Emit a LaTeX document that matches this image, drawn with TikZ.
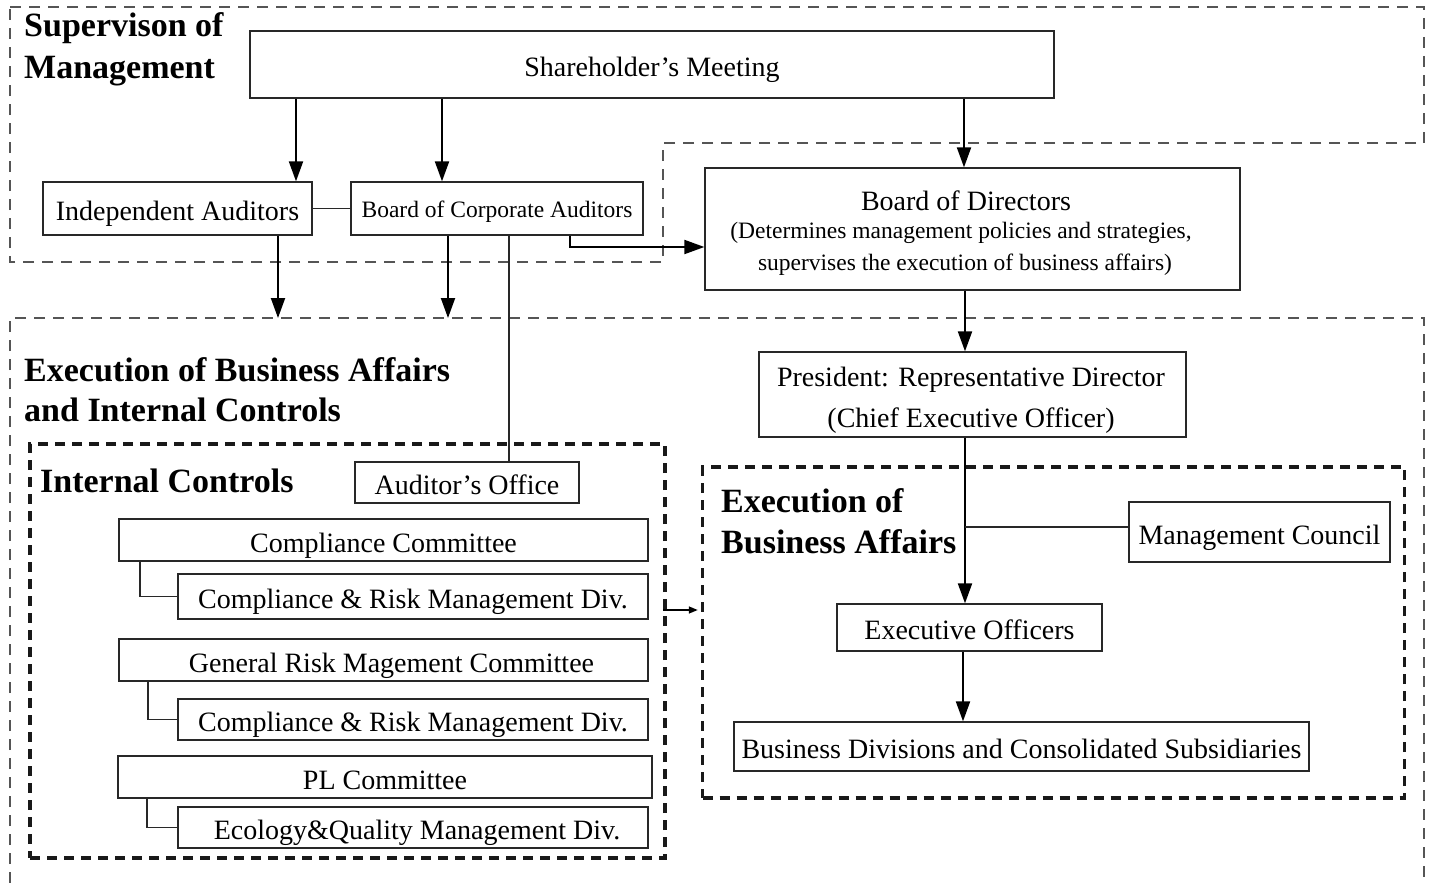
\documentclass[tikz,border=0pt]{standalone}
\usepackage{fontspec}
\setmainfont{Liberation Serif}
\usetikzlibrary{arrows.meta,calc}
\definecolor{lnc}{RGB}{40,40,40}
\definecolor{dsc}{RGB}{85,85,85}
\newcommand{\mainsz}{\fontsize{28}{32}\selectfont}
\newcommand{\smallsz}{\fontsize{23.5}{28}\selectfont}
\newcommand{\titlesz}{\fontsize{34}{41}\selectfont\bfseries}
\tikzset{
  box/.style={draw=lnc, line width=1.3pt, inner sep=0pt, font=\mainsz, text=black, text height=24.5pt, text depth=0pt},
  sbox/.style={box, font=\smallsz, text height=17pt},
  txt/.style={inner sep=0pt, anchor=base, text=black},
  ttl/.style={inner sep=0pt, anchor=base west, font=\titlesz, text=black},
  arr/.style={draw=black, line width=2pt, -{Triangle[length=20pt,width=14pt]}},
  sarr/.style={draw=black, line width=1.5pt, -{Triangle[length=9pt,width=7pt]}},
  thin/.style={draw=lnc, line width=1.2pt},
  lightdash/.style={draw=dsc, line width=1.2pt, dash pattern=on 11pt off 8pt},
  heavydash/.style={draw=black!90, line width=3.5pt, dash pattern=on 10pt off 7pt},
}
\begin{document}
\begin{tikzpicture}[x=1pt,y=-1pt]
\useasboundingbox (0,0) rectangle (1432,883);
% outer regions
\draw[lightdash] (10,7) -- (1424,7) -- (1424,143) -- (663,143) -- (663,262) -- (10,262) -- cycle;
\draw[lightdash] (10,883) -- (10,318) -- (1424,318) -- (1424,883);
% thick dashed groups
\node[heavydash, minimum width=635pt, minimum height=414pt, inner sep=0pt] (ic) at (347.5,651) {};
\node[heavydash, minimum width=702pt, minimum height=331pt, inner sep=0pt] (eba) at (1053.5,632.5) {};
% titles
\node[ttl] (t1a) at (24,37) {Supervison of};
\node[ttl] (t1b) at (24,78) {Management};
\node[ttl] (t2a) at (24,381) {Execution of Business Affairs};
\node[ttl] (t2b) at (24,421) {and Internal Controls};
\node[ttl] (t3) at (40,492) {Internal Controls};
\node[ttl] (t4a) at (721,512) {Execution of};
\node[ttl] (t4b) at (721,553) {Business Affairs};
% boxes
\node[box, minimum width=804pt, minimum height=67pt] (sm) at (652,64.5) {Shareholder’s Meeting};
\node[box, minimum width=269pt, minimum height=53pt] (ia) at (177.5,208.5) {Independent Auditors};
\node[sbox, minimum width=292pt, minimum height=53pt] (bca) at (497,208.5) {Board of Corporate Auditors};
\node[box, minimum width=535pt, minimum height=122pt] (bod) at (972.5,229) {};
\node[txt, font=\mainsz] (bodA) at (966,210) {Board of Directors};
\node[txt, font=\smallsz] (bodB) at (961,238) {(Determines management policies and strategies,};
\node[txt, font=\smallsz] (bodC) at (965,270) {supervises the execution of business affairs)};
\node[box, minimum width=427pt, minimum height=85pt] (pres) at (972.5,394.5) {};
\node[txt, font=\mainsz] (presA) at (971,386) {President: Representative Director};
\node[txt, font=\mainsz] (presB) at (971,427) {(Chief Executive Officer)};
\node[box, minimum width=261pt, minimum height=60pt] (mc) at (1259.5,532) {Management Council};
\node[box, minimum width=265pt, minimum height=47pt] (eo) at (969.5,627.5) {Executive Officers};
\node[box, minimum width=575pt, minimum height=49pt] (bd) at (1021.5,746.5) {Business Divisions and Consolidated Subsidiaries};
\node[box, minimum width=224pt, minimum height=41pt] (ao) at (467,482.5) {Auditor’s Office};
\node[box, minimum width=529pt, minimum height=42pt] (cc) at (383.5,540) {Compliance Committee};
\node[box, minimum width=470pt, minimum height=45pt] (crm1) at (413,596.5) {Compliance \& Risk Management Div.};
\node[box, minimum width=529pt, minimum height=42pt] (grmc) at (383.5,660) {\hspace*{16pt}General Risk Magement Committee};
\node[box, minimum width=470pt, minimum height=41pt] (crm2) at (413,719.5) {Compliance \& Risk Management Div.};
\node[box, minimum width=534pt, minimum height=42pt] (pl) at (385,777) {PL Committee};
\node[box, minimum width=470pt, minimum height=41pt] (eq) at (413,827.5) {\hspace*{8pt}Ecology\&Quality Management Div.};
% helper coordinates
\coordinate (a1) at (296,0);
\coordinate (a2) at (442,0);
\coordinate (a3) at (964,0);
\coordinate (a4) at (278,0);
\coordinate (a5) at (448,0);
\coordinate (a6) at (509,0);
\coordinate (a7) at (570,0);
\coordinate (a8) at (965,0);
\coordinate (a9) at (963,0);
\coordinate (r2) at (0,318);
\coordinate (y247) at (0,247);
\coordinate (br) at (965,527);
\coordinate (y610) at (0,610);
\coordinate (s1) at (140,0);
\coordinate (s2) at (148,0);
\coordinate (s3) at (147,0);
% connectors
\draw[arr] (sm.south -| a1) -- (ia.north -| a1);
\draw[arr] (sm.south -| a2) -- (bca.north -| a2);
\draw[arr] (sm.south -| a3) -- (bod.north -| a3);
\draw[thin] (ia.east) -- (bca.west);
\draw[arr] (ia.south -| a4) -- (a4 |- r2);
\draw[arr] (bca.south -| a5) -- (a5 |- r2);
\draw[thin] (bca.south -| a6) -- (ao.north -| a6);
\draw[arr] (bca.south -| a7) -- (a7 |- y247) -- (bod.west |- y247);
\draw[arr] (bod.south -| a8) -- (pres.north -| a8);
\draw[arr] (pres.south -| a8) -- (eo.north -| a8);
\draw[thin] (br) -- (mc.west |- br);
\draw[arr] (eo.south -| a9) -- (bd.north -| a9);
\draw[thin] (cc.south -| s1) |- (crm1.west);
\draw[thin] (grmc.south -| s2) |- (crm2.west);
\draw[thin] (pl.south -| s3) |- (eq.west);
\draw[sarr] ([xshift=-4pt]ic.east |- y610) -- ([xshift=-3pt]eba.west |- y610);
\end{tikzpicture}
\end{document}
